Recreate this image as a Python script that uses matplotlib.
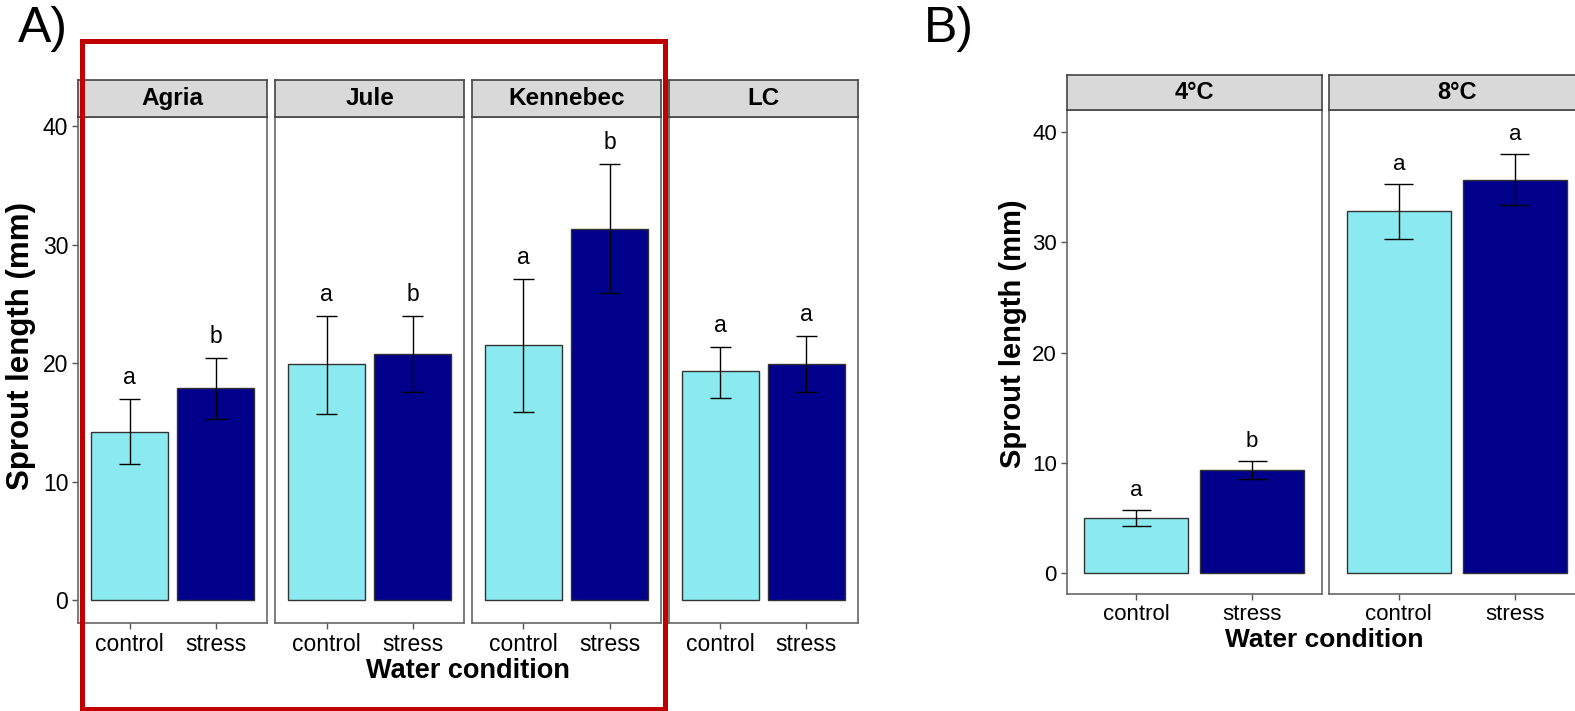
import matplotlib
matplotlib.use('Agg')
import matplotlib.pyplot as plt
from matplotlib.patches import Rectangle

plt.rcParams['font.family'] = ['Liberation Sans', 'DejaVu Sans']

# panel A: sprout length per variety
varieties = ['Agria', 'Jule', 'Kennebec', 'LC']
conditions = ['control', 'stress']
a_mean = [[14.2, 17.9], [19.9, 20.8], [21.5, 31.3], [19.3, 19.9]]
a_lo = [[11.5, 15.3], [15.7, 17.6], [15.9, 25.9], [17.1, 17.6]]
a_hi = [[17.0, 20.4], [24.0, 24.0], [27.1, 36.8], [21.4, 22.3]]
a_letters = [['a', 'b'], ['a', 'b'], ['a', 'b'], ['a', 'a']]

# panel B: sprout length per storage temperature
temps = ['4°C', '8°C']
b_mean = [[5.05, 9.33], [32.85, 35.7]]
b_lo = [[4.3, 8.55], [30.3, 33.4]]
b_hi = [[5.7, 10.2], [35.3, 38.0]]
b_letters = [['a', 'b'], ['a', 'a']]

bar_colors = ['#8BEAF0', '#00008B']
W, H = 1575, 711

fig = plt.figure(figsize=(W / 100, H / 100), dpi=100)


def px_axes(x0, y_top, w, h):
    return fig.add_axes([x0 / W, 1 - (y_top + h) / H, w / W, h / H])


def facet(x0, y_top, w, h, strip_h, title, means, los, his, letters, ylim, first, fs):
    ax = px_axes(x0, y_top, w, h)
    xs = range(len(conditions))
    ax.bar(xs, means, width=0.9, color=bar_colors, edgecolor='#333333', linewidth=1, zorder=2)
    ax.vlines(xs, los, his, color='black', linewidth=1, zorder=3)
    for i in xs:
        ax.hlines([los[i], his[i]], i - 0.125, i + 0.125, color='black', linewidth=1, zorder=3)
        ax.text(i, his[i] + 1.27, letters[i], ha='center', va='baseline', fontsize=fs)
    ax.set_xlim(-0.6, 1.6)
    ax.set_ylim(*ylim)
    ax.set_xticks(list(xs))
    ax.set_xticklabels(conditions, fontsize=fs)
    ax.set_yticks([0, 10, 20, 30, 40])
    if first:
        ax.set_yticklabels(['0', '10', '20', '30', '40'], fontsize=fs)
    else:
        ax.tick_params(axis='y', left=False, labelleft=False)
    ax.tick_params(length=4, width=1, color='#555555', pad=3)
    for s in ax.spines.values():
        s.set_color('#666666')
        s.set_linewidth(1.2)
    st = px_axes(x0, y_top - strip_h, w, strip_h)
    st.set_facecolor('#D9D9D9')
    st.set_xticks([])
    st.set_yticks([])
    for s in st.spines.values():
        s.set_color('#444444')
        s.set_linewidth(1.2)
    st.text(0.5, 0.5, title, ha='center', va='center', fontsize=fs + 1, fontweight='bold',
            transform=st.transAxes)
    return ax


# panel A facets
a_left, a_w, a_gap = 78, 189.4, 7.5
for k, name in enumerate(varieties):
    facet(a_left + k * (a_w + a_gap), 117, a_w, 506, 37, name,
          a_mean[k], a_lo[k], a_hi[k], a_letters[k], (-1.9, 40.75), k == 0, 16.5)

# panel B facets (right facet runs past the edge, as in the original)
b_left, b_w, b_gap = 1066.7, 255, 7.6
for k, name in enumerate(temps):
    facet(b_left + k * (b_w + b_gap), 110, b_w, 484.3, 35, name,
          b_mean[k], b_lo[k], b_hi[k], b_letters[k], (-1.9, 42.0), k == 0, 16)

# axis titles
fig.text(468 / W, 1 - 671 / H, 'Water condition', ha='center', va='center',
         fontsize=19.5, fontweight='bold')
fig.text(21 / W, 1 - 346 / H, 'Sprout length (mm)', ha='center', va='center',
         rotation=90, fontsize=22.5, fontweight='bold')
fig.text(1324 / W, 1 - 640 / H, 'Water condition', ha='center', va='center',
         fontsize=19, fontweight='bold')
fig.text(1013 / W, 1 - 334 / H, 'Sprout length (mm)', ha='center', va='center',
         rotation=90, fontsize=21, fontweight='bold')

# panel tags
fig.text(18 / W, 1 - 42 / H, 'A)', ha='left', va='baseline', fontsize=36)
fig.text(924 / W, 1 - 42 / H, 'B)', ha='left', va='baseline', fontsize=36)

# red highlight box
fig.patches.append(Rectangle((81.5 / W, 1 - 708.5 / H), (665 - 81.5) / W, (708.5 - 41) / H,
                             transform=fig.transFigure, fill=False, edgecolor='#C00000',
                             linewidth=3.6, zorder=10))

fig.savefig('out.png', dpi=100)
